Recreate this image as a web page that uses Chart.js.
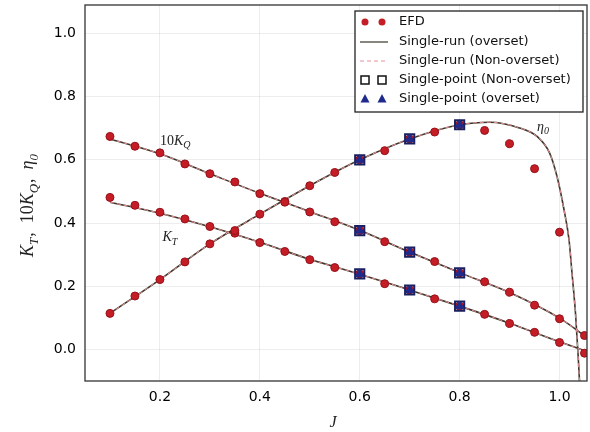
<!DOCTYPE html>
<html>
<head>
<meta charset="utf-8">
<script src="https://cdn.jsdelivr.net/npm/chart.js@4.4.1/dist/chart.umd.min.js"></script>
<style>
  html, body { margin: 0; padding: 0; background: #fff; }
  #wrap { width: 590px; height: 432px; position: relative; }
</style>
</head>
<body>
<div id="wrap"><canvas id="propChart"></canvas></div>
<script>
// EFD measurements (advance ratio J)
const efdJ = [0.10, 0.15, 0.20, 0.25, 0.30, 0.35, 0.40, 0.45, 0.50, 0.55,
              0.60, 0.65, 0.70, 0.75, 0.80, 0.85, 0.90, 0.95, 1.00, 1.05];
const efdKT = [0.481, 0.456, 0.434, 0.413, 0.389, 0.368, 0.338, 0.310, 0.284, 0.259,
               0.239, 0.208, 0.188, 0.160, 0.137, 0.111, 0.082, 0.054, 0.022, -0.012];
const efdKQ10 = [0.674, 0.643, 0.622, 0.587, 0.556, 0.530, 0.493, 0.468, 0.435, 0.404,
                 0.376, 0.341, 0.308, 0.278, 0.242, 0.214, 0.181, 0.140, 0.097, 0.044];
const efdEta = [0.114, 0.169, 0.221, 0.277, 0.334, 0.376, 0.428, 0.466, 0.518, 0.560,
                0.600, 0.629, 0.666, 0.688, 0.711, 0.693, 0.651, 0.572, 0.371, null];

// Single-run curves
const runJ = [0.10, 0.20, 0.30, 0.40, 0.50, 0.60, 0.70, 0.80, 0.90, 1.00, 1.055];
const runKT = [0.466, 0.431, 0.388, 0.339, 0.285, 0.238, 0.188, 0.137, 0.083, 0.024, -0.007];
const runKQ10 = [0.666, 0.619, 0.556, 0.494, 0.436, 0.377, 0.308, 0.243, 0.180, 0.099, 0.038];
const runEtaJ = [0.10, 0.20, 0.30, 0.40, 0.50, 0.60, 0.70, 0.80, 0.86, 0.92,
                 0.955, 0.98, 0.995, 1.009, 1.019, 1.025, 1.032, 1.037, 1.04];
const runEta = [0.114, 0.221, 0.334, 0.428, 0.518, 0.600, 0.666, 0.711, 0.719, 0.701,
                0.674, 0.622, 0.547, 0.442, 0.347, 0.241, 0.114, -0.013, -0.10];

// Single-point runs
const spJ = [0.6, 0.7, 0.8];
const spKT = [0.239, 0.188, 0.137];
const spKQ10 = [0.376, 0.308, 0.242];
const spEta = [0.600, 0.666, 0.711];

const xTicks = [0.2, 0.4, 0.6, 0.8, 1.0];
const yTicks = [0.0, 0.2, 0.4, 0.6, 0.8, 1.0];

const RED = "#c41d26";
const LINE = "#3a3526";
const PINK = "#e8919c";
const NAVY = "#1f2a8c";

function pts(xs, ys) {
  const out = [];
  for (let i = 0; i < xs.length; i++) {
    if (ys[i] !== null) out.push({ x: xs[i], y: ys[i] });
  }
  return out;
}

function runSet(data, dashed) {
  return {
    type: "line",
    data: data,
    borderColor: dashed ? PINK : LINE,
    borderWidth: dashed ? 1 : 1.6,
    borderDash: dashed ? [4, 3] : [],
    pointRadius: 0,
    cubicInterpolationMode: "monotone",
    fill: false,
    order: dashed ? 4 : 5
  };
}

const datasets = [
  runSet(pts(runJ, runKT), false),
  runSet(pts(runJ, runKQ10), false),
  runSet(pts(runEtaJ, runEta), false),
  runSet(pts(runJ, runKT), true),
  runSet(pts(runJ, runKQ10), true),
  runSet(pts(runEtaJ, runEta), true),
  {
    type: "scatter",
    data: pts(efdJ, efdKT).concat(pts(efdJ, efdKQ10), pts(efdJ, efdEta)),
    backgroundColor: RED,
    borderColor: "#961019",
    borderWidth: 1,
    pointRadius: 4,
    order: 3
  },
  {
    type: "scatter",
    data: pts(spJ, spKT).concat(pts(spJ, spKQ10), pts(spJ, spEta)),
    pointStyle: "rect",
    backgroundColor: "rgba(0,0,0,0)",
    borderColor: "#1a1f5e",
    borderWidth: 2,
    pointRadius: 6.5,
    order: 2
  },
  {
    type: "scatter",
    data: pts(spJ, spKT).concat(pts(spJ, spKQ10), pts(spJ, spEta)),
    pointStyle: "triangle",
    backgroundColor: NAVY,
    borderColor: NAVY,
    borderWidth: 1,
    pointRadius: 5,
    order: 1
  }
];

// curve labels, in data coordinates
const curveLabels = [
  { x: 0.20, y: 0.648, parts: [{ t: "10", it: false }, { t: "K", it: true, sub: "Q" }] },
  { x: 0.205, y: 0.343, parts: [{ t: "K", it: true, sub: "T" }] },
  { x: 0.955, y: 0.692, parts: [{ t: "η", it: true, sub: "0" }] }
];

function mathWidth(ctx, parts, size) {
  let w = 0;
  parts.forEach(p => {
    ctx.font = (p.it ? "italic " : "") + size + "px 'Liberation Serif'";
    w += ctx.measureText(p.t).width;
    if (p.sub) {
      ctx.font = "italic " + Math.round(size * 0.7) + "px 'Liberation Serif'";
      w += ctx.measureText(p.sub).width + 1;
    }
  });
  return w;
}

function drawMath(ctx, parts, x, y, size) {
  let cx = x;
  parts.forEach(p => {
    ctx.font = (p.it ? "italic " : "") + size + "px 'Liberation Serif'";
    ctx.fillText(p.t, cx, y);
    cx += ctx.measureText(p.t).width;
    if (p.sub) {
      ctx.font = "italic " + Math.round(size * 0.7) + "px 'Liberation Serif'";
      ctx.fillText(p.sub, cx, y + size * 0.25);
      cx += ctx.measureText(p.sub).width + 1;
    }
  });
}

const decorPlugin = {
  id: "decor",
  afterDraw(chart) {
    const { ctx, chartArea: a, scales } = chart;
    ctx.save();

    // frame
    ctx.strokeStyle = "#333";
    ctx.lineWidth = 1.3;
    ctx.strokeRect(a.left, a.top, a.right - a.left, a.bottom - a.top);

    // curve labels
    ctx.fillStyle = "#222";
    ctx.textBaseline = "alphabetic";
    ctx.textAlign = "left";
    curveLabels.forEach(l => {
      drawMath(ctx, l.parts, scales.x.getPixelForValue(l.x), scales.y.getPixelForValue(l.y), 14);
    });

    // axis titles
    const yTitle = [
      { t: "K", it: true, sub: "T" }, { t: ",  10", it: false },
      { t: "K", it: true, sub: "Q" }, { t: ",  ", it: false },
      { t: "η", it: true, sub: "0" }
    ];
    const ySize = 18;
    const yw = mathWidth(ctx, yTitle, ySize);
    ctx.save();
    ctx.translate(33, 205);
    ctx.rotate(-Math.PI / 2);
    drawMath(ctx, yTitle, -yw / 2, 0, ySize);
    ctx.restore();

    const xTitle = [{ t: "J", it: true }];
    const xw = mathWidth(ctx, xTitle, 16);
    drawMath(ctx, xTitle, (a.left + a.right) / 2 - 3 - xw / 2, 427, 16);

    // legend
    const lx = a.right - 232, ly = a.top + 6, lw = 228, lh = 101;
    ctx.fillStyle = "#fff";
    ctx.fillRect(lx, ly, lw, lh);
    ctx.strokeStyle = "#222";
    ctx.lineWidth = 1.3;
    ctx.strokeRect(lx, ly, lw, lh);

    const rowY = [ly + 11, ly + 31, ly + 50, ly + 69, ly + 88];
    const m1 = lx + 10, m2 = lx + 27;
    const items = [
      "EFD", "Single-run (overset)", "Single-run (Non-overset)",
      "Single-point (Non-overset)", "Single-point (overset)"
    ];
    // EFD
    [m1, m2].forEach(mx => {
      ctx.beginPath();
      ctx.arc(mx, rowY[0], 3.5, 0, Math.PI * 2);
      ctx.fillStyle = RED;
      ctx.fill();
    });
    // solid line
    ctx.strokeStyle = LINE;
    ctx.lineWidth = 1.2;
    ctx.beginPath();
    ctx.moveTo(lx + 5, rowY[1]);
    ctx.lineTo(lx + 33, rowY[1]);
    ctx.stroke();
    // dashed line
    ctx.strokeStyle = PINK;
    ctx.setLineDash([4, 3]);
    ctx.beginPath();
    ctx.moveTo(lx + 5, rowY[2]);
    ctx.lineTo(lx + 33, rowY[2]);
    ctx.stroke();
    ctx.setLineDash([]);
    // squares
    ctx.strokeStyle = "#111";
    ctx.lineWidth = 1.5;
    [m1, m2].forEach(mx => ctx.strokeRect(mx - 4, rowY[3] - 4, 8, 8));
    // triangles
    ctx.fillStyle = NAVY;
    [m1, m2].forEach(mx => {
      ctx.beginPath();
      ctx.moveTo(mx, rowY[4] - 5);
      ctx.lineTo(mx + 4.5, rowY[4] + 3.5);
      ctx.lineTo(mx - 4.5, rowY[4] + 3.5);
      ctx.closePath();
      ctx.fill();
    });
    ctx.fillStyle = "#111";
    ctx.font = "13px 'DejaVu Sans'";
    ctx.textBaseline = "middle";
    items.forEach((t, i) => ctx.fillText(t, lx + 44, rowY[i]));

    ctx.restore();
  }
};

new Chart(document.getElementById("propChart").getContext("2d"), {
  type: "scatter",
  data: { datasets: datasets },
  options: {
    responsive: true,
    maintainAspectRatio: false,
    animation: false,
    layout: { autoPadding: false, padding: { top: 5, right: 3, left: 0, bottom: 0 } },
    plugins: {
      legend: { display: false },
      tooltip: { enabled: false }
    },
    scales: {
      x: {
        type: "linear",
        min: 0.05,
        max: 1.055,
        afterBuildTicks: s => { s.ticks = xTicks.map(v => ({ value: v })); },
        afterFit: s => { s.height = 51; s.paddingLeft = 0; s.paddingRight = 0; },
        grid: { color: "rgba(0,0,0,0.07)", drawTicks: false },
        border: { display: false },
        ticks: {
          padding: 8,
          color: "#000",
          font: { family: "DejaVu Sans", size: 14 },
          callback: v => v.toFixed(1)
        }
      },
      y: {
        min: -0.1,
        max: 1.09,
        afterBuildTicks: s => { s.ticks = yTicks.map(v => ({ value: v })); },
        afterFit: s => { s.width = 85; s.paddingTop = 0; s.paddingBottom = 0; },
        grid: { color: "rgba(0,0,0,0.07)", drawTicks: false },
        border: { display: false },
        ticks: {
          padding: 9,
          color: "#000",
          font: { family: "DejaVu Sans", size: 14 },
          callback: v => v.toFixed(1)
        }
      }
    }
  },
  plugins: [decorPlugin]
});
</script>
</body>
</html>
